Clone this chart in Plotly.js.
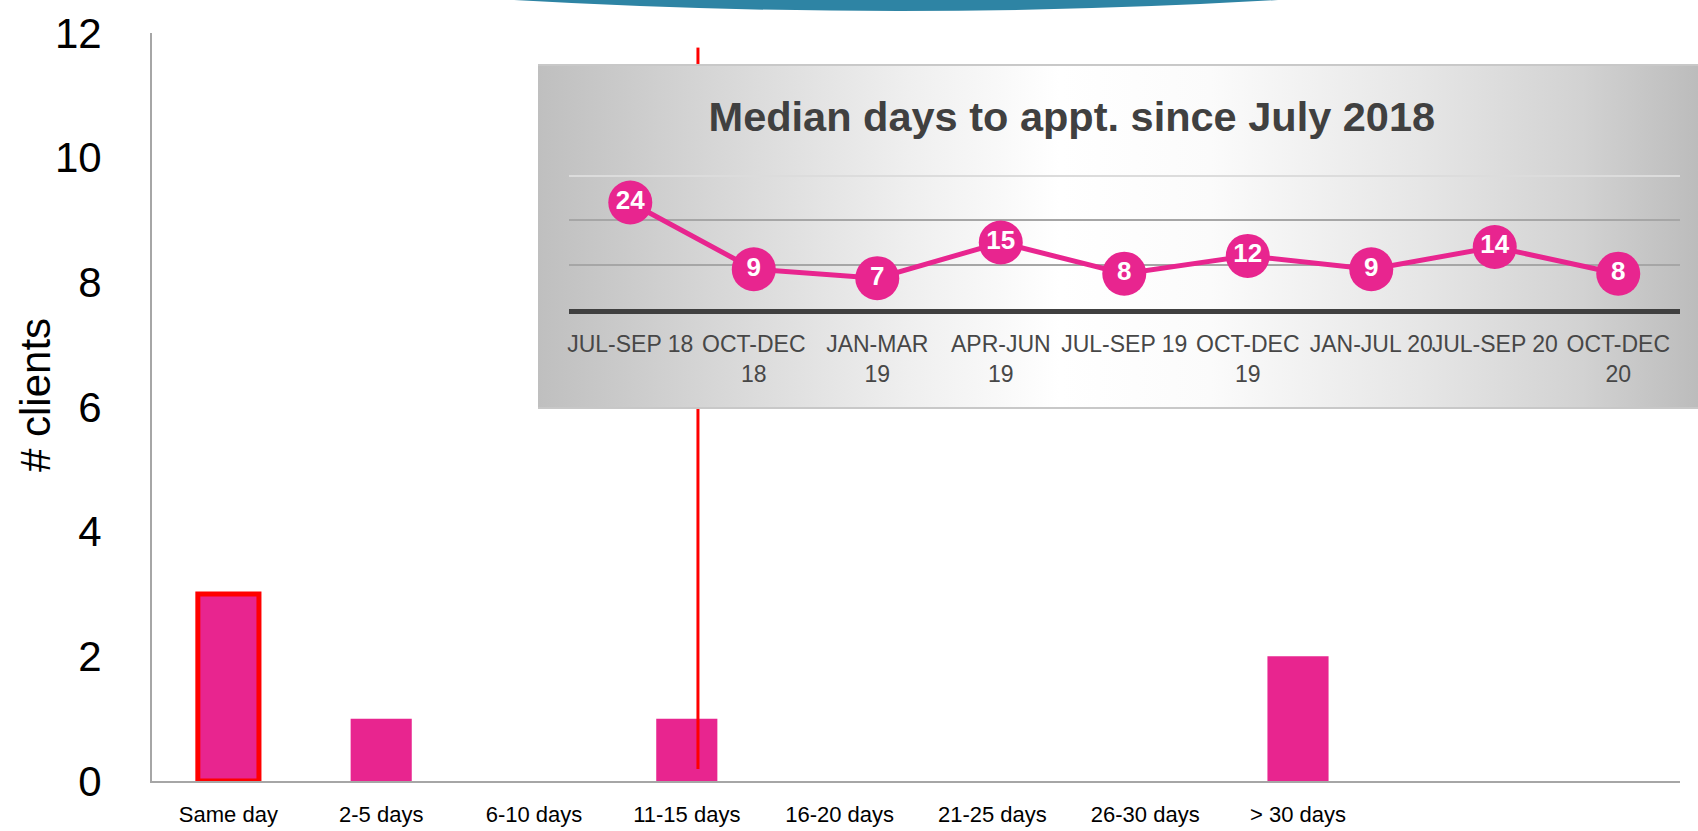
<!DOCTYPE html>
<html>
<head>
<meta charset="utf-8">
<script src="https://cdn.plot.ly/plotly-3.0.1.min.js"></script>
<style>html,body{margin:0;padding:0;background:#fff;}#chart{width:1698px;height:831px;}</style>
</head>
<body>
<div id="chart"></div>
<script>
// Main chart data
const categories = ['Same day', '2-5 days', '6-10 days', '11-15 days', '16-20 days', '21-25 days', '26-30 days', '> 30 days'];
const clients = [3, 1, 0, 1, 0, 0, 0, 2];
const highlighted = [true, false, false, false, false, false, false, false];
const yTitle = '# clients';

// Inset chart data
const periods = ['JUL-SEP 18', 'OCT-DEC<br>18', 'JAN-MAR<br>19', 'APR-JUN<br>19', 'JUL-SEP 19', 'OCT-DEC<br>19', 'JAN-JUL 20', 'JUL-SEP 20', 'OCT-DEC<br>20'];
const medianDays = [24, 9, 7, 15, 8, 12, 9, 14, 8];

const PINK = '#e8258f';

const bars = {
  type: 'bar',
  x: categories,
  y: clients,
  width: 0.4,
  marker: {
    color: PINK,
    line: {
      color: highlighted.map(h => h ? '#ff0000' : 'rgba(0,0,0,0)'),
      width: highlighted.map(h => h ? 5 : 0)
    }
  },
  hoverinfo: 'x+y'
};

const inset = {
  type: 'scatter',
  mode: 'lines+markers+text',
  x: periods,
  y: medianDays,
  xaxis: 'x2',
  yaxis: 'y2',
  line: {color: PINK, width: 5},
  marker: {color: PINK, size: 44},
  text: medianDays.map(String),
  texttemplate: '<b>%{text}</b>',
  textposition: 'middle center',
  textfont: {color: '#ffffff', size: 26, family: 'Liberation Sans, Arial, sans-serif'},
  cliponaxis: false,
  hoverinfo: 'x+y'
};

const bgSvg = "<svg xmlns='http://www.w3.org/2000/svg' width='1160' height='345' viewBox='0 0 1160 345' preserveAspectRatio='none'>" +
  "<defs><linearGradient id='g' x1='0' y1='0' x2='1' y2='0'>" +
  "<stop offset='0' stop-color='#bfbfbf'/>" +
  "<stop offset='0.15' stop-color='#d6d6d6'/>" +
  "<stop offset='0.32' stop-color='#efefef'/>" +
  "<stop offset='0.45' stop-color='#ffffff'/>" +
  "<stop offset='0.58' stop-color='#fbfbfb'/>" +
  "<stop offset='0.76' stop-color='#e6e6e6'/>" +
  "<stop offset='0.9' stop-color='#d2d2d2'/>" +
  "<stop offset='1' stop-color='#bcbcbc'/>" +
  "</linearGradient></defs>" +
  "<rect x='0' y='0' width='1160' height='345' fill='url(#g)'/>" +
  "<rect x='0' y='0' width='1160' height='2' fill='#c8c8c8'/>" +
  "<rect x='0' y='343' width='1160' height='2' fill='#c8c8c8'/>" +
  "</svg>";

const layout = {
  width: 1698,
  height: 831,
  margin: {l: 152, r: 18, t: 33, b: 50, pad: 0},
  paper_bgcolor: '#ffffff',
  plot_bgcolor: 'rgba(0,0,0,0)',
  showlegend: false,
  font: {family: 'Liberation Sans, Arial, sans-serif', color: '#000000'},
  title: {
    text: '<b>Median days to appt. since July 2018</b>',
    font: {size: 41.5, color: '#404040'},
    xref: 'paper', yref: 'paper',
    x: 0.602, xanchor: 'center',
    y: 0.889, yanchor: 'middle'
  },
  xaxis: {
    type: 'category',
    categoryorder: 'array',
    categoryarray: categories,
    range: [-0.5, 9.5],
    showline: true, linecolor: '#a6a6a6', linewidth: 2,
    showgrid: false, zeroline: false,
    ticks: '', tickangle: 0,
    ticklabelstandoff: 13,
    tickfont: {size: 22, color: '#000000'},
    fixedrange: true
  },
  yaxis: {
    range: [0, 12],
    dtick: 2,
    showline: true, linecolor: '#a6a6a6', linewidth: 2,
    showgrid: false, zeroline: false,
    ticks: '',
    tickfont: {size: 42, color: '#000000'},
    ticklabelstandoff: 40,
    fixedrange: true
  },
  xaxis2: {
    anchor: 'y2',
    domain: [0.2726, 1.0],
    type: 'category',
    categoryorder: 'array',
    categoryarray: periods,
    range: [-0.5, 8.5],
    showline: true, linecolor: '#404040', linewidth: 5,
    showgrid: false, zeroline: false,
    ticks: '', tickangle: 0,
    ticklabelstandoff: 10,
    tickfont: {size: 23, color: '#474747'},
    fixedrange: true
  },
  yaxis2: {
    anchor: 'x2',
    domain: [0.6306, 0.8121],
    range: [0, 30.5],
    tickmode: 'array',
    tickvals: [10, 20],
    showticklabels: false,
    showgrid: true, gridcolor: '#a6a6a6', gridwidth: 1.5,
    minor: {tickmode: 'array', tickvals: [30], showgrid: true, gridcolor: '#dcdcdc', gridwidth: 1.5, ticks: ''},
    zeroline: false, showline: false,
    fixedrange: true
  },
  annotations: [{
    text: yTitle,
    xref: 'paper', yref: 'paper',
    x: -0.0766, y: 0.516,
    xanchor: 'center', yanchor: 'middle',
    textangle: -90,
    showarrow: false,
    font: {size: 42, color: '#000000'}
  }],
  images: [{
    source: 'data:image/svg+xml;charset=utf-8,' + encodeURIComponent(bgSvg),
    xref: 'paper', yref: 'paper',
    x: 0.2526, y: 0.9586,
    sizex: 0.7592, sizey: 0.4613,
    xanchor: 'left', yanchor: 'top',
    sizing: 'stretch',
    layer: 'below'
  }],
  shapes: [
    {
      type: 'path', xref: 'paper', yref: 'paper',
      path: 'M 0.2369 1.07 L 0.2369 1.0441 Q 0.49 1.0147 0.7369 1.0441 L 0.7369 1.07 Z',
      fillcolor: '#2e84a4', line: {width: 0}
    },
    {
      type: 'line', xref: 'paper', yref: 'paper',
      x0: 0.3573, x1: 0.3573, y0: 0.9805, y1: 0.9586,
      line: {color: '#ff0000', width: 3}
    },
    {
      type: 'line', xref: 'paper', yref: 'paper',
      x0: 0.3573, x1: 0.3573, y0: 0.4973, y1: 0.016,
      line: {color: '#ff0000', width: 3}
    }
  ]
};

Plotly.newPlot('chart', [bars, inset], layout, {displayModeBar: false, responsive: false});
</script>
</body>
</html>
